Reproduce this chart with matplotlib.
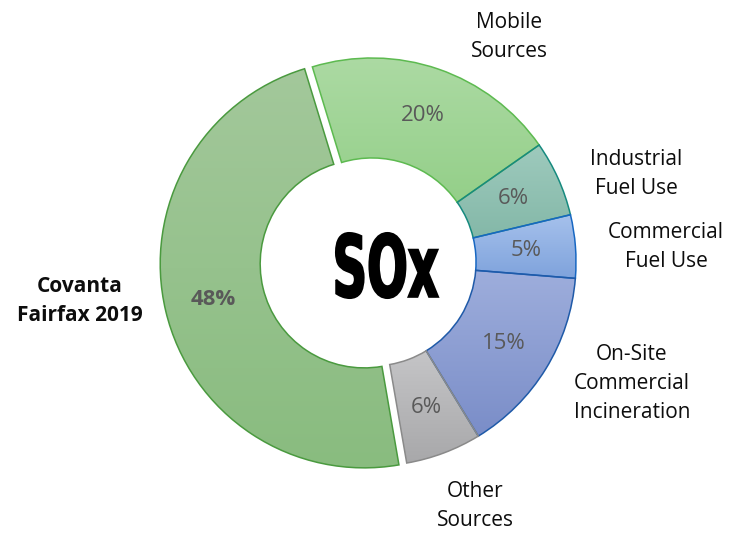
import numpy as np
import matplotlib

matplotlib.use("Agg")
import matplotlib.pyplot as plt
from matplotlib.colors import LinearSegmentedColormap
from matplotlib.font_manager import FontProperties
from matplotlib.patches import PathPatch
from matplotlib.textpath import TextPath
from matplotlib.transforms import Affine2D

# data, clockwise from the first slice
categories = [
    "Mobile\nSources",
    "Industrial\nFuel Use",
    "Commercial\nFuel Use",
    "On-Site\nCommercial\nIncineration",
    "Other\nSources",
    "Covanta\nFairfax 2019",
]
shares = [20, 6, 5, 15, 6, 48]
explode = [0, 0, 0, 0, 0, 8]  # pixels, Covanta pulled out

# gradient fills (top, bottom) and outlines
fills = [
    ("#acdaa3", "#94cf89"),
    ("#9ecabd", "#84b8a8"),
    ("#a6c1ec", "#7fa3dc"),
    ("#9eaedc", "#7a8dc8"),
    ("#c5c5c7", "#a8a8aa"),
    ("#a3c89b", "#89bc7f"),
]
edges = ["#5dba50", "#168a7f", "#1767c2", "#1f5aa8", "#8a8a8a", "#4a9a3f"]

# label anchors in pixels: (centre x, first baseline y from top)
label_pos = [(509, 28), (636, 165), (666, 238), (632, 360), (475, 497), (80, 292)]

W, H = 743, 533
plt.rcParams["font.family"] = ["Open Sans", "DejaVu Sans"]

fig = plt.figure(figsize=(W / 100, H / 100), dpi=100)
ax = fig.add_axes([0, 0, 1, 1])

cx, cy, R = 372, H - 262, 204
wedges, _, autotexts = ax.pie(
    shares,
    explode=explode,
    radius=R,
    center=(cx, cy),
    startangle=107,
    counterclock=False,
    autopct="%d%%",
    pctdistance=0.76,
    wedgeprops=dict(width=R * 0.49, linewidth=1.1, facecolor="none"),
    textprops=dict(color="#595959", fontsize=16),
)

grad = np.linspace(0, 1, 256)[:, None]
for w, (top, bot), ec in zip(wedges, fills, edges):
    w.set_edgecolor(ec)
    w.set_zorder(3)
    ext = w.get_path().get_extents()
    cmap = LinearSegmentedColormap.from_list("g", [top, bot])
    im = ax.imshow(
        grad,
        cmap=cmap,
        extent=(ext.x0, ext.x1, ext.y0, ext.y1),
        origin="upper",
        aspect="auto",
        zorder=2,
    )
    im.set_clip_path(w)

for t in autotexts:
    t.set_zorder(5)
autotexts[-1].set_fontweight("bold")

for name, (lx, ly), bold in zip(
    categories, label_pos, [False] * 5 + [True]
):
    for i, line in enumerate(name.split("\n")):
        ax.text(
            lx,
            H - (ly + 29 * i),
            line,
            ha="center",
            va="baseline",
            fontsize=15,
            color="#0d0d0d",
            fontweight="bold" if bold else "normal",
        )

# "SOx" in the hole, squeezed into a tall condensed block
tp = TextPath((0, 0), "SOx", size=100, prop=FontProperties(family="DejaVu Sans", weight="bold"))
e = tp.get_extents()
tr = Affine2D().translate(-e.x0, -e.y0).scale(102 / e.width, 65 / e.height).translate(336, H - 298)
ax.add_patch(PathPatch(tr.transform_path(tp), facecolor="black", edgecolor="black", lw=1.5, zorder=5))

ax.set_xlim(0, W)
ax.set_ylim(0, H)
ax.set_aspect("equal")
ax.axis("off")

fig.savefig("out.png", dpi=100)
